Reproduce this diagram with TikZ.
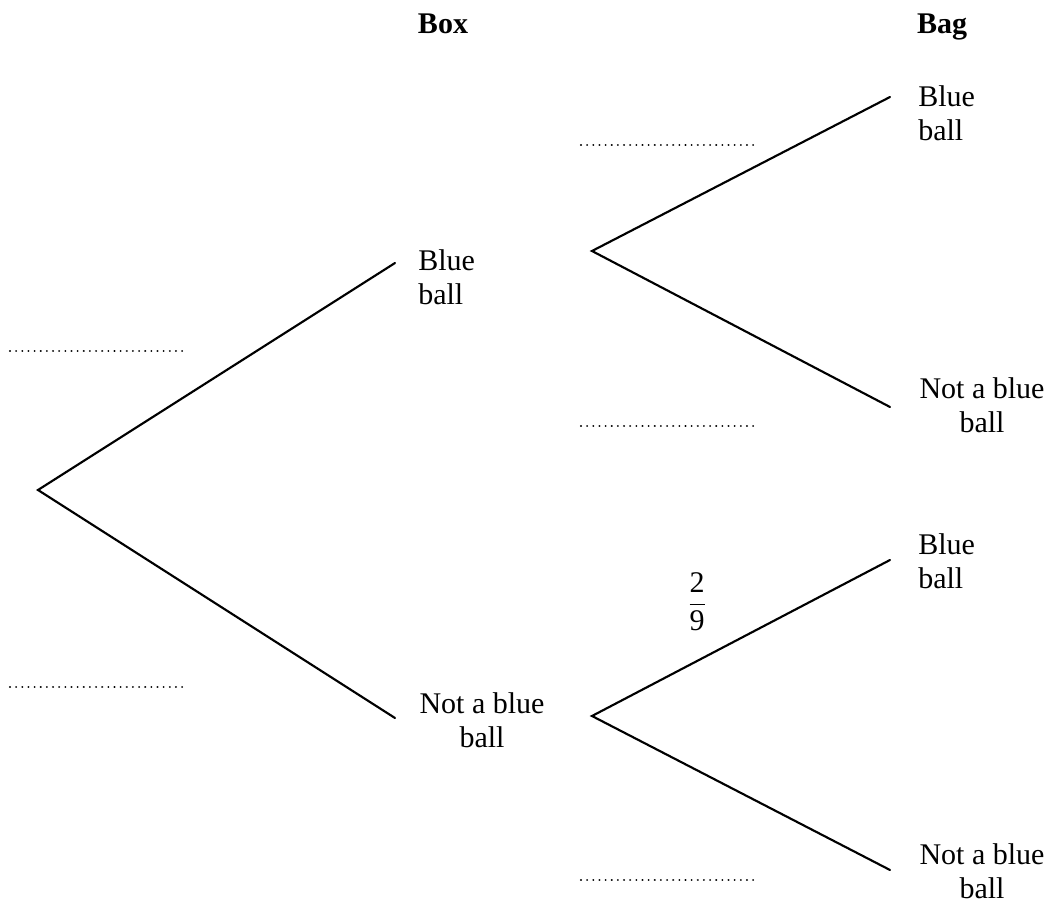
\documentclass[tikz,border=0pt]{standalone}
\usepackage{fontspec}
\setmainfont{Liberation Serif}
\begin{document}
\begin{tikzpicture}[x=0.75pt,y=-0.75pt,
  branch/.style={line width=1.6pt,line cap=round},
  blank/.style={line width=1.6pt,dash pattern=on 0.01pt off 4.6pt,line cap=round},
  lbl/.style={inner sep=0pt,font=\fontsize{22.5}{25.5}\selectfont},
  lleft/.style={lbl,align=left},
  lcent/.style={lbl,align=center},
  head/.style={inner sep=0pt,anchor=base,font=\fontsize{22.5}{25.5}\selectfont\bfseries}]
\useasboundingbox (0,0) rectangle (1050,905);

% column headings
\node[head] (box) at (443,34) {Box};
\node[head] (bag) at (942,34) {Bag};

% branch points
\coordinate (root) at (38,490);
\coordinate (b1) at (395,263);
\coordinate (n1) at (395,718);
\coordinate (b1s) at (592,251);
\coordinate (n1s) at (592,716);
\coordinate (bb) at (890,97);
\coordinate (bn) at (890,407);
\coordinate (nb) at (890,560);
\coordinate (nn) at (890,870);

% first stage
\draw[branch] (b1) -- (root) -- (n1);
% second stage
\draw[branch] (bb) -- (b1s) -- (bn);
\draw[branch] (nb) -- (n1s) -- (nn);

% outcome labels
\node[lleft,anchor=west] (lb1) at (418,277) {Blue\\ball};
\node[lcent] (ln1) at (482,720) {Not a blue\\ball};
\node[lleft,anchor=west] (lbb) at (918,113) {Blue\\ball};
\node[lcent] (lbn) at (982,405) {Not a blue\\ball};
\node[lleft,anchor=west] (lnb) at (918,561) {Blue\\ball};
\node[lcent] (lnn) at (982,871) {Not a blue\\ball};

% probability given
\node[lbl] (p) at (697,602) {$\displaystyle\frac{\mbox{2}}{\mbox{9}}$};

% blanks for the missing probabilities
\coordinate (d1a) at (10,351); \coordinate (d1b) at (187,351);
\coordinate (d2a) at (10,687); \coordinate (d2b) at (187,687);
\coordinate (d3a) at (581,145); \coordinate (d3b) at (758,145);
\coordinate (d4a) at (581,426); \coordinate (d4b) at (758,426);
\coordinate (d5a) at (581,880); \coordinate (d5b) at (758,880);
\draw[blank] (d1a) -- (d1b);
\draw[blank] (d2a) -- (d2b);
\draw[blank] (d3a) -- (d3b);
\draw[blank] (d4a) -- (d4b);
\draw[blank] (d5a) -- (d5b);
\end{tikzpicture}
\end{document}
